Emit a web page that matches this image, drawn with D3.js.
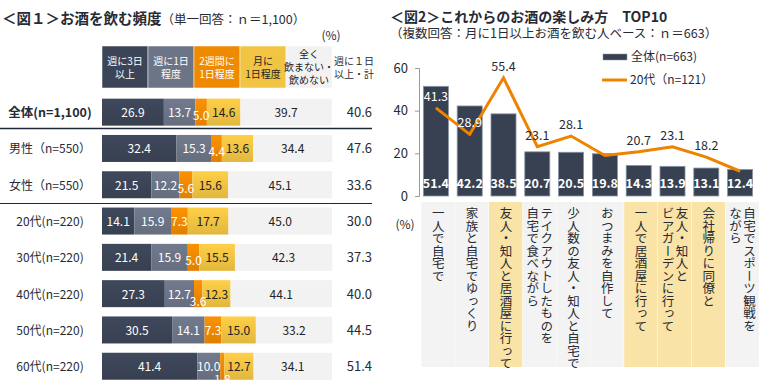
<!DOCTYPE html>
<html>
<head>
<meta charset="utf-8">
<script src="https://cdn.jsdelivr.net/npm/d3@7"></script>
<style>
  body { margin: 0; background: #fff; }
  svg { font-family: "Noto Sans CJK JP", "Noto Sans", sans-serif; }
</style>
</head>
<body>
<svg id="chart" width="760" height="388"></svg>
<script>
// ---- data: figure 1 (frequency) ----
const rows = ["全体(n=1,100)", "男性（n=550）", "女性（n=550）", "20代(n=220)", "30代(n=220)", "40代(n=220)", "50代(n=220)", "60代(n=220)"];
const freqLabels = ["週に3日\n以上", "週に1日\n程度", "2週間に\n1日程度", "月に\n1日程度", "全く\n飲まない・\n飲めない"];
const weekly3 = [26.9, 32.4, 21.5, 14.1, 21.4, 27.3, 30.5, 41.4];
const weekly1 = [13.7, 15.3, 12.2, 15.9, 15.9, 12.7, 14.1, 10.0];
const biweekly = [5.0, 4.4, 5.6, 7.3, 5.0, 3.6, 7.3, 1.8];
const monthly = [14.6, 13.6, 15.6, 17.7, 15.5, 12.3, 15.0, 12.7];
const never = [39.7, 34.4, 45.1, 45.0, 42.3, 44.1, 33.2, 34.1];
const weeklyTotal = [40.6, 47.6, 33.6, 30.0, 37.3, 40.0, 44.5, 51.4];

// ---- data: figure 2 (top 10) ----
const ways = [
  ["一人で自宅で"],
  ["家族と自宅でゆっくり"],
  ["友人・知人と居酒屋に行って"],
  ["テイクアウトしたものを", "自宅で食べながら"],
  ["少人数の友人・知人と自宅で"],
  ["おつまみを自作して"],
  ["一人で居酒屋に行って"],
  ["友人・知人と", "ビアガーデンに行って"],
  ["会社帰りに同僚と"],
  ["自宅でスポーツ観戦を", "ながら"]
];
const highlighted = [false, false, true, false, false, false, true, true, true, false];
const allValues = [51.4, 42.2, 38.5, 20.7, 20.5, 19.8, 14.3, 13.9, 13.1, 12.4];
const twentiesValues = [41.3, 28.9, 55.4, 23.1, 28.1, 19.0, 20.7, 23.1, 18.2, 11.6];
const yTicks = [0, 20, 40, 60];

const svg = d3.select("#chart");
const dark = "#262b35";

// ================= figure 1 =================
svg.append("text").attr("x", 2).attr("y", 24)
  .attr("font-size", 14.5).attr("font-weight", "bold").attr("fill", dark)
  .text("＜図１＞お酒を飲む頻度")
  .append("tspan").attr("font-weight", "normal").attr("font-size", 12.5)
  .text("（単一回答：ｎ＝1,100）");

svg.append("text").attr("x", 331).attr("y", 40).attr("text-anchor", "middle")
  .attr("font-size", 12).attr("fill", dark).text("(%)");

const segColors = ["#3c4557", "#6c7587", "#ef8a00", "#f2c443", "#f2f2f2"];
const segText = ["#fff", "#fff", "#fff", "#222", "#222"];

// gradients for a bit of shading on the bars
const defs = svg.append("defs");
segColors.forEach((c, i) => {
  const g = defs.append("linearGradient").attr("id", "seg" + i)
    .attr("x1", 0).attr("y1", 0).attr("x2", 0).attr("y2", 1);
  g.append("stop").attr("offset", "0%").attr("stop-color", d3.color(c).brighter(0.15));
  g.append("stop").attr("offset", "100%").attr("stop-color", d3.color(c).darker(0.2));
});

const x1 = d3.scaleLinear().domain([0, 100]).range([102, 332]);
const y1 = d3.scaleBand().domain(rows).range([94, 384.4]);
const barH = 27;

// header cells
const headBounds = d3.cumsum([0, 20, 20, 20, 20, 20]);
freqLabels.forEach((lab, i) => {
  const x0 = x1(headBounds[i]), xw = x1(headBounds[i + 1]) - x0;
  svg.append("rect").attr("x", x0).attr("y", 46).attr("width", xw).attr("height", 42)
    .attr("fill", segColors[i]).attr("stroke", "#fff").attr("stroke-width", 0.5);
  const lines = lab.split("\n");
  const t = svg.append("text").attr("text-anchor", "middle")
    .attr("font-size", 10).attr("fill", segText[i]);
  lines.forEach((l, j) => {
    t.append("tspan").attr("x", x0 + xw / 2)
      .attr("y", 67 + (j - (lines.length - 1) / 2) * 13 + 4).text(l);
  });
});
const tHead = svg.append("text").attr("text-anchor", "middle").attr("font-size", 10).attr("fill", dark);
["週に１日", "以上・計"].forEach((l, j) => {
  tHead.append("tspan").attr("x", 354).attr("y", 65 + j * 13).text(l);
});

// stacked bars: all segments first, then the labels so none get hidden
const series = [weekly3, weekly1, biweekly, monthly, never];
const barLayer = svg.append("g");
const labelLayer = svg.append("g");
rows.forEach((r, ri) => {
  const yTop = y1(r) + (y1.bandwidth() - barH) / 2;
  const yMid = y1(r) + y1.bandwidth() / 2;
  let acc = 0;
  series.forEach((s, si) => {
    const v = s[ri];
    barLayer.append("rect").attr("x", x1(acc)).attr("y", yTop)
      .attr("width", x1(acc + v) - x1(acc)).attr("height", barH)
      .attr("fill", si === 4 ? segColors[4] : `url(#seg${si})`);
    // narrow orange segments push their label downward
    let dy = 0;
    if (si === 2) dy = v < 2 ? 13 : v < 4 ? 7 : v < 6 ? 3 : 0;
    labelLayer.append("text").attr("x", x1(acc + v / 2)).attr("y", yMid + 5 + dy)
      .attr("text-anchor", "middle").attr("font-size", 12)
      .attr("fill", segText[si]).text(v.toFixed(1));
    acc += v;
  });
  labelLayer.append("text").attr("x", 372).attr("y", yMid + 5).attr("text-anchor", "end")
    .attr("font-size", 13).attr("fill", dark).text(weeklyTotal[ri].toFixed(1));
  labelLayer.append("text").attr("x", 50).attr("y", yMid + 5).attr("text-anchor", "middle")
    .attr("font-size", ri === 0 ? 12.5 : 12).attr("font-weight", ri === 0 ? "bold" : "normal")
    .attr("fill", dark).text(r);
});

// separators
svg.append("line").attr("x1", 0).attr("x2", 372).attr("y1", 128.5).attr("y2", 128.5)
  .attr("stroke", "#1e2838").attr("stroke-width", 1.5);
svg.append("line").attr("x1", 0).attr("x2", 372).attr("y1", 203.5).attr("y2", 203.5)
  .attr("stroke", "#1e2838").attr("stroke-width", 1);

// ================= figure 2 =================
svg.append("text").attr("x", 390).attr("y", 22)
  .attr("font-size", 14).attr("font-weight", "bold").attr("fill", dark)
  .text("＜図2＞これからのお酒の楽しみ方　TOP10");
svg.append("text").attr("x", 390).attr("y", 38)
  .attr("font-size", 12.5).attr("fill", dark)
  .text("（複数回答：月に1日以上お酒を飲む人ベース：ｎ＝663）");

const x2 = d3.scaleBand().domain(d3.range(ways.length)).range([419, 757])
  .paddingInner(0.26).paddingOuter(0.13);
const y2 = d3.scaleLinear().domain([0, 60]).range([196, 68]);

// category label cells
const step = x2.step();
svg.append("g").selectAll("rect").data(ways).join("rect")
  .attr("x", (d, i) => x2(i) - 2).attr("y", 202)
  .attr("width", step - 0.5).attr("height", 165)
  .attr("fill", (d, i) => highlighted[i] ? "#f9e3a6" : "#f3f3f3");

ways.forEach((lines, i) => {
  const cx = x2(i) - 2 + step / 2;
  lines.forEach((l, j) => {
    const off = lines.length === 1 ? 0 : (j === 0 ? 7 : -7);
    svg.append("text").attr("x", cx + off).attr("y", 207)
      .style("writing-mode", "vertical-rl")
      .attr("font-size", 12.5).attr("fill", dark).text(l);
  });
});

svg.append("text").attr("x", 405).attr("y", 229).attr("text-anchor", "middle")
  .attr("font-size", 12).attr("fill", dark).text("(%)");

// y axis
const yAxis = svg.append("g").attr("transform", "translate(419,0)")
  .call(d3.axisLeft(y2).tickValues(yTicks).tickSize(4).tickPadding(7));
yAxis.select(".domain").attr("stroke", "#999");
yAxis.selectAll(".tick line").attr("stroke", "#999");
yAxis.selectAll(".tick text").attr("font-size", 13).attr("fill", dark)
  .attr("font-family", "\"Noto Sans CJK JP\", sans-serif");

// bars
svg.append("g").selectAll("rect").data(allValues).join("rect")
  .attr("x", (d, i) => x2(i)).attr("y", d => y2(d))
  .attr("width", x2.bandwidth()).attr("height", d => y2(0) - y2(d))
  .attr("fill", "#374151").attr("stroke", "#8793a6").attr("stroke-width", 0.8);

svg.append("g").selectAll("text").data(allValues).join("text")
  .attr("x", (d, i) => x2(i) + x2.bandwidth() / 2).attr("y", 188)
  .attr("text-anchor", "middle").attr("font-size", 12.5).attr("font-weight", "bold")
  .attr("fill", "#fff").text(d => d.toFixed(1));

// 20s line
const line = d3.line()
  .x((d, i) => x2(i) + x2.bandwidth() / 2)
  .y(d => y2(d));
svg.append("path").datum(twentiesValues).attr("d", line)
  .attr("fill", "none").attr("stroke", "#ef8300").attr("stroke-width", 3)
  .attr("stroke-linejoin", "miter");

svg.append("g").selectAll("text").data(twentiesValues).join("text")
  .attr("x", (d, i) => x2(i) + x2.bandwidth() / 2).attr("y", d => y2(d) - 7)
  .attr("text-anchor", "middle").attr("font-size", 12.5)
  .attr("fill", (d, i) => d < allValues[i] ? "#fff" : dark)
  .text(d => d.toFixed(1));

// legend
svg.append("rect").attr("x", 603).attr("y", 54).attr("width", 24).attr("height", 6)
  .attr("fill", "#374151").attr("stroke", "#8793a6").attr("stroke-width", 0.5);
svg.append("text").attr("x", 631).attr("y", 61).attr("font-size", 12).attr("fill", dark).text("全体(n=663)");
svg.append("line").attr("x1", 602).attr("x2", 627).attr("y1", 80).attr("y2", 80)
  .attr("stroke", "#ef8300").attr("stroke-width", 3);
svg.append("text").attr("x", 630).attr("y", 84).attr("font-size", 12).attr("fill", dark).text("20代（n=121）");
</script>
</body>
</html>
